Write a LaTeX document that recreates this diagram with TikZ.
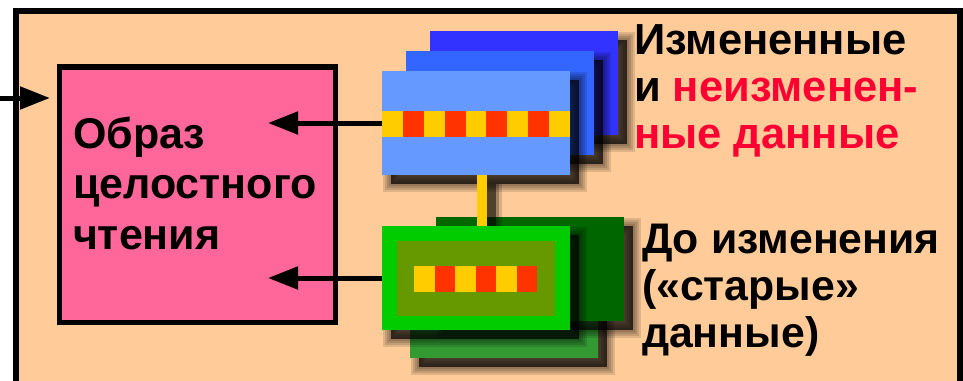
\documentclass[tikz,border=0pt]{standalone}
\usepackage{fontspec}
\setmainfont{Liberation Sans}
\usetikzlibrary{arrows.meta}

\definecolor{peach}{HTML}{FFCC99}
\definecolor{rose}{HTML}{FF6699}
\definecolor{blueA}{HTML}{3333FF}
\definecolor{blueB}{HTML}{3366FF}
\definecolor{blueC}{HTML}{6699FF}
\definecolor{yel}{HTML}{FFCC00}
\definecolor{redseg}{HTML}{FF3300}
\definecolor{greenLime}{HTML}{00CC00}
\definecolor{greenOlive}{HTML}{669900}
\definecolor{greenDark}{HTML}{006600}
\definecolor{greenMid}{HTML}{339933}
\definecolor{redtxt}{HTML}{FF0033}

\tikzset{
  frame/.style={draw=black, line width=6pt, fill=peach},
  pinkbox/.style={draw=black, line width=5.5pt, fill=rose,
    minimum width=276pt, minimum height=255.5pt, inner sep=0pt},
  shadowlayer/.style={preaction={draw=black, line width=#1,
      opacity=0.12, transform canvas={shift={(9pt,-9pt)}}}},
  softshadow/.style={
    shadowlayer=16pt, shadowlayer=12pt, shadowlayer=8pt, shadowlayer=4pt,
    preaction={fill=black, opacity=0.7,
      transform canvas={shift={(9pt,-9pt)}}}},
  card/.style={minimum width=188pt, minimum height=104pt,
    inner sep=0pt, outer sep=0pt, softshadow},
  inner/.style={minimum width=158pt, minimum height=75pt,
    inner sep=0pt, outer sep=0pt, fill=greenOlive},
  flow/.style={draw=black, line width=5pt,
    -{Triangle[length=30pt,width=22pt]}},
  bar/.style={draw=yel, line width=10pt,
    preaction={draw=black, line width=22pt, opacity=0.15,
      transform canvas={shift={(9pt,-9pt)}}},
    preaction={draw=black, line width=16pt, opacity=0.25,
      transform canvas={shift={(9pt,-9pt)}}},
    preaction={draw=black, line width=10pt, opacity=0.5,
      transform canvas={shift={(9pt,-9pt)}}}},
  lblL/.style={inner sep=0pt, outer sep=0pt, anchor=base west,
    font=\bfseries\fontsize{43}{50.5}\selectfont},
  lblR/.style={inner sep=0pt, outer sep=0pt, anchor=base west,
    font=\bfseries\fontsize{43.5}{47}\selectfont},
  lblR2/.style={lblR, font=\bfseries\fontsize{42.8}{47}\selectfont},
}

\begin{document}
\begin{tikzpicture}[x=1pt,y=-1pt]
\useasboundingbox (0,0) rectangle (963,380);
\clip (0,0) rectangle (963,380);
\fill[white] (0,0) rectangle (963,380);

% outer frame, open at the bottom edge of the page
\draw[frame] (16,11) rectangle (960,430);

% read image box
\node[pinkbox] (img) at (197.5,194.75) {};
\node[lblL] (imgtext) at (73,148)
  {\begin{tabular}[t]{@{}l@{}}Образ\\целостного\\чтения\end{tabular}};

% incoming arrow
\coordinate (src) at (0,98);
\coordinate (in) at (50,98);
\draw[flow] (src) -- (in);

% stack of changed / unchanged pages
\node[card, fill=blueA] (bA) at (524,83) {};
\node[card, fill=blueB] (bB) at (500,103) {};
\node[card, fill=blueC] (bC) at (476,123) {};
\fill[yel] (382,111) rectangle (570,137);
\foreach \i in {1,3,5,7}
  \fill[redseg] ({382+\i*188/9},111) rectangle ({382+(\i+1)*188/9},137);

% stack of old versions
\node[card, fill=greenMid] (gB) at (504,306) {};
\node[card, fill=greenDark] (gA) at (530,269) {};
\coordinate (gCtop) at (482,228);
\draw[bar] ([xshift=6pt]bC.south) -- (gCtop);
\node[card, fill=greenLime] (gC) at (476,278) {};
\node[inner] (gCin) at (476,278.5) {};
\fill[yel] (414,266) rectangle (537,292);
\foreach \i in {1,3,5}
  \fill[redseg] ({414+\i*20.5},266) rectangle ({414+(\i+1)*20.5},292);

% arrows into the read image
\coordinate (t1) at (268,123);
\coordinate (t2) at (268,278);
\draw[flow] (bC.west) -- (t1);
\draw[flow] (gC.west) -- (t2);

% captions
\node[lblR] (newtext) at (634,54)
  {\begin{tabular}[t]{@{}l@{}}Измененные\\и \textcolor{redtxt}{неизменен-}\\\textcolor{redtxt}{ные данные}\end{tabular}};
\node[lblR2] (oldtext) at (642,253)
  {\begin{tabular}[t]{@{}l@{}}До изменения\\(«старые»\\данные)\end{tabular}};
\end{tikzpicture}
\end{document}
